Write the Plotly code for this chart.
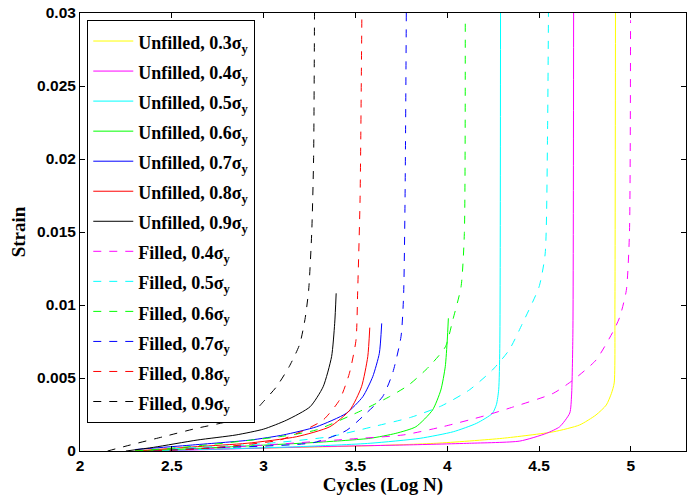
import plotly.graph_objects as go

# ---- data ----
uf03_x = [2.30, 2.50, 3.00, 3.58, 3.94, 4.30, 4.58, 4.72, 4.81, 4.866, 4.894, 4.909, 4.913, 4.916]
uf03_y = [0.0, 0.0001, 0.0002, 0.00036, 0.00053, 0.00087, 0.00132, 0.00178, 0.00247, 0.00315, 0.00395, 0.00466, 0.01, 0.030]

uf04_x = [2.40, 2.70, 3.30, 3.76, 4.12, 4.395, 4.54, 4.612, 4.667, 4.677, 4.684, 4.688]
uf04_y = [0.0, 0.0001, 0.0003, 0.00041, 0.00053, 0.00068, 0.00121, 0.00166, 0.0026, 0.00384, 0.008, 0.030]

uf05_x = [2.30, 2.70, 3.20, 3.58, 3.852, 4.033, 4.16, 4.246, 4.268, 4.280, 4.286, 4.290]
uf05_y = [0.0, 0.00012, 0.0003, 0.00053, 0.00087, 0.00132, 0.0019, 0.00258, 0.0032, 0.0042, 0.007, 0.030]

uf06_x = [2.30, 2.50, 3.00, 3.30, 3.58, 3.72, 3.829, 3.92, 3.965, 3.989, 4.000, 4.006]
uf06_y = [0.0, 0.0001, 0.0004, 0.0006, 0.00087, 0.00121, 0.00166, 0.00281, 0.00418, 0.00577, 0.0076, 0.00909]

uf07_x = [2.30, 2.60, 2.928, 3.107, 3.288, 3.45, 3.54, 3.594, 3.63, 3.643]
uf07_y = [0.0001, 0.0004, 0.00075, 0.0011, 0.00166, 0.00258, 0.00372, 0.00509, 0.00669, 0.00874]

uf08_x = [2.30, 2.64, 2.91, 3.18, 3.36, 3.47, 3.533, 3.567, 3.578]
uf08_y = [0.0, 0.0003, 0.00053, 0.00098, 0.00166, 0.00281, 0.0044, 0.00646, 0.00845]

uf09_x = [2.25, 2.40, 2.638, 2.85, 3.00, 3.126, 3.253, 3.324, 3.37, 3.387, 3.395]
uf09_y = [0.0, 0.00025, 0.00075, 0.0011, 0.0015, 0.00212, 0.00303, 0.0044, 0.00646, 0.00875, 0.0108]

f04_x = [2.60, 3.00, 3.45, 3.76, 3.974, 4.20, 4.35, 4.577, 4.685, 4.81, 4.908, 4.94, 4.975, 4.992, 4.998]
f04_y = [0.0001, 0.0004, 0.0008, 0.0011, 0.00166, 0.0024, 0.00298, 0.00395, 0.00486, 0.00623, 0.0083, 0.0092, 0.011, 0.0149, 0.0295]

f05_x = [2.50, 3.00, 3.36, 3.594, 3.80, 3.97, 4.12, 4.246, 4.337, 4.41, 4.50, 4.533, 4.546, 4.551]
f05_y = [0.00015, 0.0005, 0.00098, 0.00166, 0.0023, 0.0031, 0.00418, 0.00555, 0.00692, 0.00875, 0.01125, 0.0135, 0.0218, 0.030]

f06_x = [2.30, 2.60, 3.087, 3.286, 3.54, 3.685, 3.79, 3.90, 3.99, 4.03, 4.075, 4.093, 4.098]
f06_y = [0.0, 0.0003, 0.00098, 0.00144, 0.00281, 0.00372, 0.00452, 0.00577, 0.00714, 0.00897, 0.01125, 0.0149, 0.0295]

f07_x = [2.40, 2.70, 3.27, 3.45, 3.558, 3.648, 3.702, 3.748, 3.762, 3.770, 3.777]
f07_y = [0.0, 0.0002, 0.00057, 0.0014, 0.00258, 0.00372, 0.00532, 0.00783, 0.0106, 0.0172, 0.030]

f08_x = [2.40, 2.70, 3.087, 3.224, 3.324, 3.413, 3.467, 3.503, 3.512, 3.525, 3.535]
f08_y = [0.0, 0.0002, 0.00075, 0.00144, 0.00212, 0.00349, 0.00532, 0.0076, 0.0109, 0.0172, 0.030]

f09_x = [2.15, 2.273, 2.454, 2.634, 2.815, 2.94, 3.00, 3.07, 3.14, 3.196, 3.225, 3.245, 3.262, 3.272, 3.277]
f09_y = [0.0, 0.00041, 0.00098, 0.00155, 0.00205, 0.00262, 0.0034, 0.0044, 0.0058, 0.0073, 0.0090, 0.0110, 0.015, 0.020, 0.030]

x_ticks = [2, 2.5, 3, 3.5, 4, 4.5, 5]
x_ticklabels = ["2", "2.5", "3", "3.5", "4", "4.5", "5"]
y_ticks = [0, 0.005, 0.01, 0.015, 0.02, 0.025, 0.03]
y_ticklabels = ["0", "0.005", "0.01", "0.015", "0.02", "0.025", "0.03"]

series = [
    ("Unfilled, 0.3σ", uf03_x, uf03_y, "#ffff00", "solid"),
    ("Unfilled, 0.4σ", uf04_x, uf04_y, "#ff00ff", "solid"),
    ("Unfilled, 0.5σ", uf05_x, uf05_y, "#00ffff", "solid"),
    ("Unfilled, 0.6σ", uf06_x, uf06_y, "#00ff00", "solid"),
    ("Unfilled, 0.7σ", uf07_x, uf07_y, "#0000ff", "solid"),
    ("Unfilled, 0.8σ", uf08_x, uf08_y, "#ff0000", "solid"),
    ("Unfilled, 0.9σ", uf09_x, uf09_y, "#000000", "solid"),
    ("Filled, 0.4σ", f04_x, f04_y, "#ff00ff", "8px,8px"),
    ("Filled, 0.5σ", f05_x, f05_y, "#00ffff", "8px,8px"),
    ("Filled, 0.6σ", f06_x, f06_y, "#00ff00", "8px,8px"),
    ("Filled, 0.7σ", f07_x, f07_y, "#0000ff", "8px,8px"),
    ("Filled, 0.8σ", f08_x, f08_y, "#ff0000", "8px,8px"),
    ("Filled, 0.9σ", f09_x, f09_y, "#000000", "8px,8px"),
]

fig = go.Figure()
for name, xs, ys, col, dash in series:
    label = "<span style='font-size:18px'>" + name + "<sub>y</sub></span>"
    fig.add_trace(go.Scatter(
        x=xs, y=ys, mode="lines", name=label,
        line=dict(color=col, width=1, dash=dash, shape="spline", smoothing=0.6),
    ))

axis_common = dict(
    showgrid=False, zeroline=False, showline=True, linecolor="black", linewidth=1,
    mirror="ticks", ticks="inside", ticklen=5, tickcolor="black",
    tickfont=dict(family="Arial, Liberation Sans, sans-serif", size=15.5, color="black", weight=700),
)

fig.update_layout(
    width=687, height=500,
    margin=dict(l=80, r=1, t=13, b=49),
    paper_bgcolor="white", plot_bgcolor="white",
    xaxis=dict(range=[2, 5.3], tickvals=x_ticks,
               ticktext=["<b>" + t + "</b>" for t in x_ticklabels],
               title=dict(text="<b>Cycles (Log N)</b>", standoff=4,
                          font=dict(family="Liberation Serif", size=19, color="black")),
               **axis_common),
    yaxis=dict(range=[0, 0.03], tickvals=y_ticks,
               ticktext=["<b>" + t + "</b>" for t in y_ticklabels],
               title=dict(text="<b>Strain</b>", standoff=6,
                          font=dict(family="Liberation Serif", size=19, color="black")),
               **axis_common),
    legend=dict(x=0.012, y=0.984, xanchor="left", yanchor="top",
                bgcolor="white", bordercolor="black", borderwidth=1,
                font=dict(family="Liberation Serif", size=20.8, color="black", weight="bold"),
                tracegroupgap=0, itemwidth=40),
    showlegend=True,
)

fig.write_html("out.html")
